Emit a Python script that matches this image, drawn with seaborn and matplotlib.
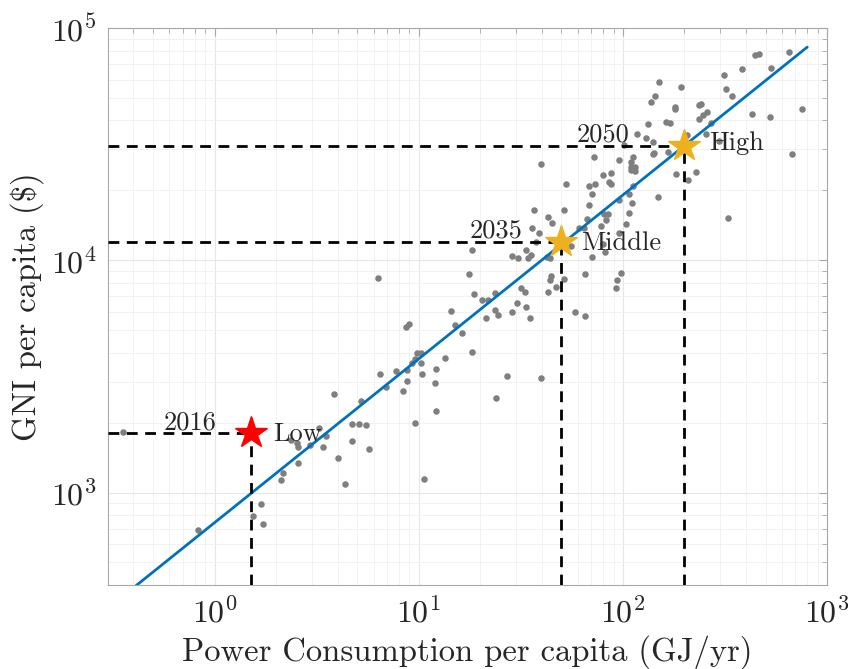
import numpy as np
import pandas as pd
import matplotlib
matplotlib.use("Agg")
import matplotlib.pyplot as plt
import seaborn as sns
from matplotlib.ticker import LogLocator, NullFormatter

# ---------------- data ----------------
power = [652, 464, 444, 532, 385, 314, 192, 150, 319, 344,
         143, 137, 179, 180, 236, 240, 259, 247, 236, 271,
         750, 429, 525, 163, 170, 133, 117, 130, 140, 101,
         255, 297, 205, 167, 142, 140, 112, 72.0, 670, 96.1,
         110, 109, 114, 110, 114, 39.6, 182, 209, 228, 79.7,
         87.5, 85.5, 87.1, 52.4, 68.1, 72.6, 112, 70.3, 107, 111,
         95.5, 149, 68.1, 36.6, 51.2, 43.0, 45.1, 80.4, 84.3, 107,
         82.3, 66.4, 104, 327, 36.0, 39.0, 60.9, 64.2, 77.8, 95.5,
         80.2, 82.0, 70.5, 18.2, 37.6, 33.7, 35.6, 34.2, 30.6, 28.5,
         42.7, 43.9, 55.7, 17.6, 65.0, 98.2, 93.5, 92.3, 44.6, 43.9,
         51.2, 47.1, 31.8, 33.2, 42.8, 18.6, 20.4, 21.8, 23.6, 6.29,
         23.5, 24.4, 21.4, 28.7, 30.4, 33.6, 35.2, 58.0, 65.1, 27.0,
         39.6, 23.9, 14.4, 15.0, 16.3, 8.61, 8.97, 18.2, 9.82, 10.2,
         9.55, 9.28, 10.2, 13.5, 12.2, 7.71, 8.75, 6.49, 10.4, 6.88,
         8.71, 8.32, 12.0, 3.86, 5.18, 12.1, 9.53, 4.70, 5.11, 5.54,
         3.26, 3.49, 2.36, 2.52, 2.56, 2.94, 3.41, 4.70, 5.73, 4.00,
         2.57, 2.16, 2.12, 4.37, 10.6, 1.69, 1.54, 1.72, 0.826, 0.355,
         1.5]
gni = [78900, 77600, 76200, 67300, 66800, 62800, 55700, 58300, 54500, 51000,
       50800, 47800, 45600, 44600, 46600, 46900, 43600, 42300, 40600, 39000,
       44900, 42700, 41500, 39400, 38900, 38500, 34800, 33500, 32400, 31400,
       35000, 32600, 34600, 29200, 29100, 28700, 27900, 27900, 28800, 26900,
       26400, 25300, 25200, 24400, 24200, 25900, 23600, 22100, 24100, 23400,
       23700, 21800, 21300, 21400, 20900, 21200, 20900, 19200, 19300, 17700,
       18200, 18700, 17300, 16400, 16400, 15300, 14400, 15900, 15900, 16000,
       14900, 15100, 14300, 15200, 13800, 13100, 13800, 13800, 14100, 13100,
       11800, 10900, 10300, 11100, 12000, 11100, 10500, 10200, 10200, 10400,
       10300, 10200, 11500, 8710, 8770, 8810, 8200, 7600, 8560, 8240,
       8310, 7710, 7600, 7270, 7300, 7180, 6740, 6740, 7200, 8370,
       6080, 5790, 5660, 5970, 6530, 6300, 5630, 5970, 5730, 3160,
       3100, 2550, 6050, 5250, 4860, 5140, 5320, 4030, 3990, 3990,
       3750, 3610, 3610, 3810, 3410, 3340, 3370, 3230, 3240, 2860,
       3010, 2750, 2970, 2650, 2490, 2240, 1990, 1970, 1980, 1960,
       1900, 1760, 1690, 1640, 1570, 1610, 1570, 1670, 1540, 1410,
       1340, 1220, 1130, 1090, 1140, 889, 795, 731, 689, 1830,
       1800]

# fitted power law: GNI = fit_coef * power ** fit_exp
fit_coef = 743.0
fit_exp = 0.705
fit_range = [0.3, 800.0]

scen_names = ["Low", "Middle", "High"]
scen_years = ["2016", "2035", "2050"]
scen_power = [1.5, 50.0, 200.0]
scen_gni = [1800.0, 12000.0, 31000.0]
scen_colors = ["#FF0000", "#EDB120", "#EDB120"]

x_ticks = [1e0, 1e1, 1e2, 1e3]
y_ticks = [1e3, 1e4, 1e5]
x_lim = [0.3, 1000]
y_lim = [400, 1e5]

# ---------------- style ----------------
sns.set_style("white")
plt.rcParams["font.family"] = ["cmr10", "DejaVu Serif"]
plt.rcParams["mathtext.fontset"] = "cm"
plt.rcParams["axes.formatter.use_mathtext"] = True

fig = plt.figure(figsize=(8.48, 6.69), dpi=100)
ax = fig.add_axes([108 / 848, (669 - 585) / 669, (827 - 108) / 848, (585 - 28) / 669])
ax.set_xscale("log")
ax.set_yscale("log")

df = pd.DataFrame({"power": power, "gni": gni})
sns.scatterplot(data=df, x="power", y="gni", ax=ax, color="#7f7f7f",
                s=22, linewidth=0, zorder=3, legend=False)

fx = np.logspace(np.log10(fit_range[0]), np.log10(fit_range[1]), 200)
fit_df = pd.DataFrame({"x": fx, "y": fit_coef * fx ** fit_exp})
sns.lineplot(data=fit_df, x="x", y="y", ax=ax, color="#0072BD", lw=2.0,
             zorder=4, legend=False)

dash = (0, (3.9, 2.7))
for name, yr, px, gy, c in zip(scen_names, scen_years, scen_power, scen_gni, scen_colors):
    ax.plot([x_lim[0], px], [gy, gy], color="black", lw=2.0, ls=dash, zorder=5)
    ax.plot([px, px], [y_lim[0], gy], color="black", lw=2.0, ls=dash, zorder=5)
    ax.plot([px], [gy], marker="*", ms=24, color=c, mec=c, ls="none", zorder=6)

# label offsets in points relative to each star
offs_year = {"2016": (-24.5, 3), "2035": (-28, 3.5), "2050": (-39.5, 3)}
offs_name = {"Low": (16.5, -5.3), "Middle": (14, -5.5), "High": (18, -3)}
for name, yr, px, gy in zip(scen_names, scen_years, scen_power, scen_gni):
    ax.annotate(yr, (px, gy), xytext=offs_year[yr], textcoords="offset points",
                ha="right", va="baseline", fontsize=19, zorder=7)
    ax.annotate(name, (px, gy), xytext=offs_name[name], textcoords="offset points",
                ha="left", va="baseline", fontsize=19, zorder=7)

ax.set_xlim(x_lim)
ax.set_ylim(y_lim)
ax.set_xticks(x_ticks)
ax.set_yticks(y_ticks)
ax.xaxis.set_minor_locator(LogLocator(base=10, subs=np.arange(2, 10), numticks=20))
ax.yaxis.set_minor_locator(LogLocator(base=10, subs=np.arange(2, 10), numticks=20))
ax.xaxis.set_minor_formatter(NullFormatter())
ax.yaxis.set_minor_formatter(NullFormatter())

ax.grid(True, which="major", color="#e6e6e6", lw=0.8)
ax.grid(True, which="minor", color="#f0f0f0", lw=0.6)
ax.set_axisbelow(True)

for sp in ax.spines.values():
    sp.set_color("#a8a8a8")
    sp.set_linewidth(0.8)
ax.tick_params(which="both", direction="in", top=True, right=True, colors="#a8a8a8",
               labelcolor="#262626", labelsize=23)
ax.tick_params(which="major", length=6, width=0.8, pad=8)
ax.tick_params(which="minor", length=3.5, width=0.6)

ax.set_xlabel("Power Consumption per capita (GJ/yr)", fontsize=23.5, color="#262626", labelpad=5)
ax.set_ylabel("GNI per capita ($)", fontsize=23.5, color="#262626", labelpad=5)

fig.savefig("out.png", dpi=100)
